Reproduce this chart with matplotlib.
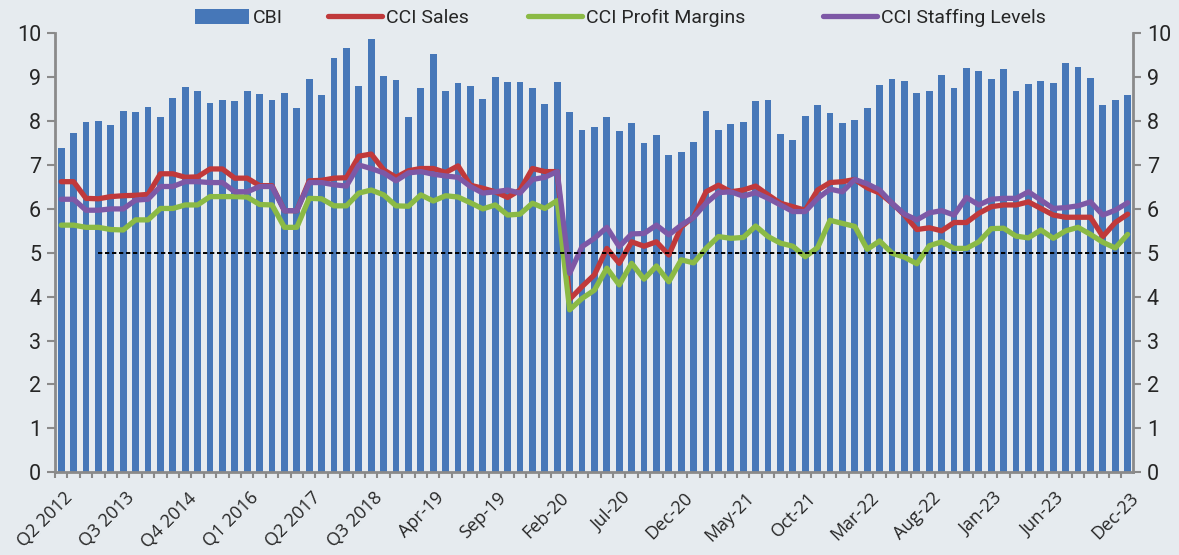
import numpy as np
import matplotlib.pyplot as plt
import matplotlib.transforms as mtransforms

# Composite index (bars) and the three CCI components (lines)
cbi = [
    7.39, 7.72, 7.98, 8.01, 7.92, 8.22, 8.21, 8.31, 8.09, 8.53,
    8.77, 8.68, 8.41, 8.48, 8.46, 8.69, 8.62, 8.48, 8.65, 8.30,
    8.97, 8.60, 9.44, 9.67, 8.80, 9.86, 9.03, 8.94, 8.10, 8.75,
    9.53, 8.69, 8.86, 8.80, 8.50, 9.00, 8.88, 8.89, 8.75, 8.39,
    8.89, 8.21, 7.80, 7.87, 8.10, 7.77, 7.96, 7.49, 7.69, 7.23,
    7.30, 7.52, 8.24, 7.80, 7.93, 7.98, 8.46, 8.48, 7.71, 7.57,
    8.12, 8.37, 8.19, 7.96, 8.03, 8.30, 8.82, 8.95, 8.91, 8.65,
    8.69, 9.05, 8.75, 9.21, 9.15, 8.97, 9.19, 8.69, 8.85, 8.91,
    8.87, 9.33, 9.24, 8.98, 8.36, 8.48, 8.60,
]

cci_sales = [
    6.62, 6.62, 6.24, 6.23, 6.28, 6.30, 6.31, 6.33, 6.80, 6.80,
    6.72, 6.73, 6.91, 6.91, 6.70, 6.70, 6.53, 6.53, 5.96, 5.96,
    6.64, 6.65, 6.70, 6.71, 7.20, 7.25, 6.89, 6.72, 6.87, 6.92,
    6.92, 6.83, 6.98, 6.54, 6.47, 6.39, 6.26, 6.43, 6.92, 6.85,
    6.85, 3.94, 4.23, 4.50, 5.10, 4.76, 5.25, 5.15, 5.25, 4.95,
    5.59, 5.82, 6.39, 6.54, 6.39, 6.43, 6.52, 6.32, 6.13, 6.05,
    5.97, 6.43, 6.60, 6.62, 6.67, 6.48, 6.36, 6.13, 5.86, 5.53,
    5.57, 5.50, 5.69, 5.69, 5.90, 6.05, 6.09, 6.09, 6.16, 6.01,
    5.86, 5.81, 5.81, 5.81, 5.37, 5.69, 5.88,
]

cci_profit = [
    5.63, 5.63, 5.58, 5.58, 5.53, 5.52, 5.75, 5.75, 6.01, 6.01,
    6.09, 6.09, 6.28, 6.28, 6.28, 6.27, 6.10, 6.09, 5.58, 5.58,
    6.24, 6.23, 6.07, 6.07, 6.36, 6.43, 6.32, 6.07, 6.06, 6.32,
    6.18, 6.30, 6.27, 6.14, 6.00, 6.09, 5.86, 5.88, 6.13, 6.01,
    6.19, 3.70, 3.96, 4.15, 4.65, 4.27, 4.76, 4.40, 4.70, 4.34,
    4.84, 4.77, 5.10, 5.37, 5.33, 5.35, 5.61, 5.37, 5.22, 5.15,
    4.91, 5.12, 5.74, 5.67, 5.60, 5.08, 5.27, 4.99, 4.90, 4.75,
    5.16, 5.25, 5.10, 5.10, 5.25, 5.55, 5.56, 5.38, 5.34, 5.52,
    5.33, 5.50, 5.58, 5.42, 5.24, 5.11, 5.42,
]

cci_staffing = [
    6.22, 6.22, 5.97, 5.97, 6.00, 6.00, 6.20, 6.22, 6.51, 6.51,
    6.62, 6.62, 6.60, 6.60, 6.39, 6.39, 6.51, 6.51, 5.96, 5.96,
    6.60, 6.60, 6.55, 6.52, 7.00, 6.92, 6.82, 6.64, 6.82, 6.85,
    6.79, 6.75, 6.72, 6.51, 6.36, 6.39, 6.43, 6.36, 6.67, 6.72,
    6.85, 4.53, 5.14, 5.33, 5.58, 5.14, 5.43, 5.44, 5.63, 5.41,
    5.63, 5.81, 6.13, 6.37, 6.39, 6.29, 6.37, 6.24, 6.09, 5.94,
    5.94, 6.24, 6.45, 6.39, 6.67, 6.57, 6.43, 6.13, 5.88, 5.75,
    5.91, 5.96, 5.86, 6.26, 6.09, 6.22, 6.24, 6.24, 6.39, 6.20,
    6.01, 6.03, 6.07, 6.16, 5.86, 5.97, 6.14,
]

label_pos = [0, 5, 10, 15, 20, 25, 30, 35, 40, 45, 50, 55, 60, 65, 70, 75, 80, 86]
label_text = [
    "Q2 2012", "Q3 2013", "Q4 2014", "Q1 2016", "Q2 2017", "Q3 2018",
    "Apr-19", "Sep-19", "Feb-20", "Jul-20", "Dec-20", "May-21",
    "Oct-21", "Mar-22", "Aug-22", "Jan-23", "Jun-23", "Dec-23",
]

neutral_level = 5
neutral_start = 3

bg = "#e6ebef"
blue = "#4677b8"
red = "#c0393b"
green = "#8bba45"
purple = "#7d58a6"
axis_grey = "#8a8a8a"
text_col = "#262626"

W, H = 1179, 555
fig = plt.figure(figsize=(W / 100, H / 100), dpi=100)
fig.patch.set_facecolor(bg)
ax = fig.add_axes([55 / W, 1 - 472.3 / H, (1133 - 55) / W, (472.3 - 33.3) / H])
ax.set_facecolor(bg)

x = np.arange(len(cbi))

bars = ax.bar(x, cbi, width=0.55, color=blue, label="CBI", zorder=1)

line_kw = dict(lw=3.8, solid_joinstyle="round", solid_capstyle="round", zorder=3)
l_sales, = ax.plot(x, cci_sales, color=red, label="CCI Sales", **line_kw)
l_profit, = ax.plot(x, cci_profit, color=green, label="CCI Profit Margins", **line_kw)
l_staff, = ax.plot(x, cci_staffing, color=purple, label="CCI Staffing Levels", **line_kw)

ax.hlines(neutral_level, neutral_start, len(cbi) - 0.57, colors="black",
          linestyles=(0, (2.2, 1.4)), lw=1.4, zorder=4)

ax.set_xlim(-0.48, len(cbi) - 0.57)
ax.set_ylim(0, 10)

ax.spines["top"].set_visible(False)
for side in ["left", "right", "bottom"]:
    ax.spines[side].set_color(axis_grey)
    ax.spines[side].set_linewidth(2)

ax.set_yticks(range(0, 11))
ax.tick_params(axis="y", which="major", direction="out", length=6, width=1.5,
               color=axis_grey, labelsize=15.5, labelcolor=text_col,
               left=True, right=True, labelleft=True, labelright=True, pad=4)
for t in ax.yaxis.get_major_ticks():
    t.label1.set_fontfamily("Roboto")
    t.label2.set_fontfamily("Roboto")

ax.set_xticks(x - 0.5, minor=True)
ax.set_xticks(label_pos)
ax.set_xticklabels(label_text, rotation=45, ha="right", va="top",
                   rotation_mode="anchor", fontfamily="Open Sans",
                   fontsize=13, color=text_col)
ax.tick_params(axis="x", which="major", length=0, pad=12)
ax.tick_params(axis="x", which="minor", direction="out", length=4, width=1.5,
               color=axis_grey)
shift = mtransforms.ScaledTranslation(2 / 100, 0, fig.dpi_scale_trans)
for lbl in ax.get_xticklabels():
    lbl.set_transform(lbl.get_transform() + shift)

# legend entries laid out one by one along the top edge
legend_x = [195, 328, 528, 823]
for handle, lx in zip([bars, l_sales, l_profit, l_staff], legend_x):
    leg = fig.legend(handles=[handle], loc="center left",
                     bbox_to_anchor=(lx / W, 1 - 18 / H), frameon=False,
                     prop={"family": "Roboto", "size": 14}, labelcolor=text_col,
                     handlelength=2.8, handleheight=0.85, handletextpad=0.2,
                     borderpad=0, borderaxespad=0)

fig.savefig("out.png", dpi=100, facecolor=bg)
